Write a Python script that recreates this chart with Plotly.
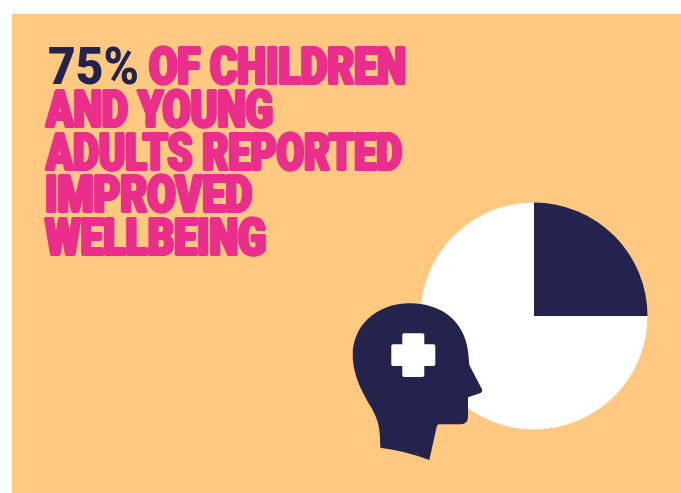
import json
import plotly.graph_objects as go

# Headline lines and the share shown in the pie
headline_lead = "75%"
headline_lines = ["OF CHILDREN", "AND YOUNG", "ADULTS REPORTED", "IMPROVED", "WELLBEING"]
slice_labels = ["Improved wellbeing", "Other"]
slice_values = [25, 75]

NAVY = "#23234E"
PINK = "#EB2D8B"
PEACH = "#FFC982"
W, H = 681, 493
FONT = "Roboto"
FONT_SIZE = 52
HEAVY = ", ".join(f"{dx}px {dy}px 0 {PINK}" for dx, dy in
                  [(1, 0), (-1, 0), (2, 0), (-2, 0), (1, 1), (-1, -1), (1, -1), (-1, 1)])

fig = go.Figure()
fig.add_trace(go.Scatter(x=[], y=[], showlegend=False))
fig.add_trace(go.Pie(
    labels=slice_labels, values=slice_values, sort=False, direction="clockwise", rotation=0,
    marker=dict(colors=[NAVY, "#FFFFFF"], line=dict(width=0)),
    textinfo="none", hoverinfo="label+percent", showlegend=False,
    domain=dict(x=[420.5 / W, 647.5 / W], y=[(H - 429.5) / H, (H - 202.5) / H]),
))

shapes = [
    dict(type="rect", x0=12, x1=W, y0=14, y1=H, fillcolor=PEACH, line_width=0, layer="below"),
    # Head silhouette in profile
    dict(type="path", layer="above", fillcolor=NAVY, line_width=0,
         path="M380.3,447.7 Q405,450.7 429.3,460 L436.7,426.7 Q437.5,424.3 439,424.3 "
              "L460.7,424.3 Q468,424.3 468,416.7 L468,397.3 L480,393.3 Q483,392 482,389.3 "
              "L469.3,365 L468.3,353.3 C465,320 440,303.3 410,303.3 "
              "C376,303.3 352.7,326 352.7,355 C352.7,377 365,397 371.7,408.3 "
              "C378,420 380.3,427 380.3,447.7 Z"),
    # Medical cross on the head
    dict(type="path", layer="above", fillcolor="#FFFFFF", line_width=0,
         path="M404,333.3 L422.5,333.3 Q424.3,333.3 424.3,335 L424.3,344.3 L433.5,344.3 "
              "Q435.3,344.3 435.3,346 L435.3,364.3 Q435.3,366 433.5,366 L424.3,366 L424.3,375.3 "
              "Q424.3,377 422.5,377 L404,377 Q402.3,377 402.3,375.3 L402.3,366 L393,366 "
              "Q391.3,366 391.3,364.3 L391.3,346 Q391.3,344.3 393,344.3 L402.3,344.3 L402.3,335 "
              "Q402.3,333.3 404,333.3 Z"),
]

def line_annotation(text, x, y, color=PINK, shadow=HEAVY):
    return dict(text=text, x=x, y=y, xref="x", yref="y", xanchor="left", yanchor="bottom",
                showarrow=False, align="left", borderpad=0,
                font=dict(family=FONT, size=FONT_SIZE, color=color, weight=900, shadow=shadow))

LINE_BOTTOMS = [98, 141, 184, 226, 269]
LINE_STARTS = [148, 44, 44, 44, 44]
LINE_WIDTHS = [257, 227, 356, 207, 221]
LEAD_WIDTH = 91

annotations = [line_annotation(headline_lead, 47, LINE_BOTTOMS[0], NAVY, "none")]
for line, x, bottom in zip(headline_lines, LINE_STARTS, LINE_BOTTOMS):
    annotations.append(line_annotation(line, x, bottom))

fig.update_layout(
    width=W, height=H, margin=dict(l=0, r=0, t=0, b=0),
    paper_bgcolor="#FFFFFF", plot_bgcolor="rgba(0,0,0,0)",
    xaxis=dict(range=[0, W], visible=False, fixedrange=True),
    yaxis=dict(range=[H, 0], visible=False, fixedrange=True),
    shapes=shapes, annotations=annotations,
)

# Condense the headline glyphs to the width of each line
condense = """
var widths = %s;
document.getElementById('{plot_id}').querySelectorAll('.annotation-text').forEach(function (t, i) {
  t.setAttribute('textLength', widths[i]);
  t.setAttribute('lengthAdjust', 'spacingAndGlyphs');
});
""" % json.dumps([LEAD_WIDTH] + LINE_WIDTHS)

fig.write_html("out.html", config=dict(displayModeBar=False), post_script=condense)
